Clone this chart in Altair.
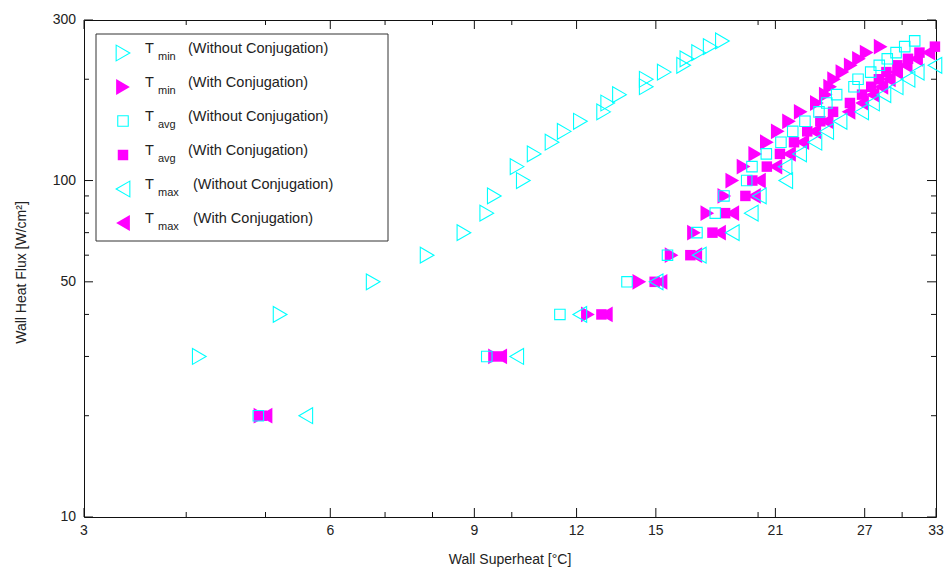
import altair as alt
import pandas as pd

# ---------------- data ----------------
levels = [20, 30, 40, 50, 60, 70, 80, 90, 100, 110, 120, 130, 140, 150, 160,
          170, 180, 190, 200, 210, 220, 230, 240, 250, 260]

tmin_wo = [None, 4.15, 5.21, 6.77, 7.88, 8.74, 9.32, 9.52, 10.33, 10.15, 10.65, 11.2, 11.59, 12.13,
           12.95, 13.1, 13.54, 14.6, 14.6, 15.36, 16.22, 16.37, 16.92, 17.48, 18.09]
tmin_w = [4.93, 9.54, 12.39, 14.32, 15.68, 16.7, 17.34, 18.19, 18.6, 19.2, 19.84, 20.5, 21.14, 21.82,
          22.55, 23.6, 24.2, 24.5, 24.77, 25.36, 25.96, 26.57, 27.15, 28.24, None]
tavg_wo = [4.9, 9.32, 11.45, 13.83, 15.5, 16.84, 17.73, 18.17, 19.37, 19.66, 20.47, 21.33, 22.05, 22.82,
           23.74, 24.27, 24.95, 26.2, 26.5, 27.46, 28.13, 28.77, 29.49, 30.22, 31.08]
tavg_w = [4.95, 9.6, 12.87, 14.95, 16.53, 17.59, 18.23, 19.3, 19.68, 20.5, 21.27, 22.13, 22.97, 23.83,
          24.7, 25.9, 26.8, 27.5, 28.1, 28.7, 29.6, 30.5, 31.5, 32.9, None]
tmax_wo = [5.6, 10.14, 12.11, 15.01, 16.95, 18.6, 19.62, 20.07, 21.62, 21.58, 22.48, 23.47, 24.26, 25.19,
           26.77, 27.6, 28.5, 29.5, 30.5, 31.3, 32.9, None, None, None, None]
tmax_w = [5.0, 9.68, 13.03, 15.2, 16.76, 17.92, 18.6, 19.77, 20.05, 21.0, 21.82, 22.65, 23.43, 24.26,
          25.8, 26.8, 27.6, 28.3, 28.9, 29.5, 30.3, 31.2, 32.3, None, None]

series_names = ["Tmin_wo", "Tmin_w", "Tavg_wo", "Tavg_w", "Tmax_wo", "Tmax_w"]
series_values = [tmin_wo, tmin_w, tavg_wo, tavg_w, tmax_wo, tmax_w]
legend_sub = ["min", "min", "avg", "avg", "max", "max"]
legend_desc = ["(Without Conjugation)", "(With Conjugation)", "(Without Conjugation)",
               "(With Conjugation)", "(Without Conjugation)", "(With Conjugation)"]

x_major = [3, 6, 9, 12, 15, 21, 27, 33]
x_minor = [4, 5, 7, 8, 10, 20, 30]
y_major = [10, 50, 100, 300]
y_minor = [20, 30, 40, 60, 70, 80, 90, 200]
x_title = "Wall Superheat [°C]"
y_title = "Wall Heat Flux [W/cm²]"

rows = []
for name, vals in zip(series_names, series_values):
    for q, t in zip(levels, vals):
        if t is not None:
            rows.append({"series": name, "q": q, "T": t})
df = pd.DataFrame(rows)

legend_df = pd.DataFrame({"series": series_names, "sub": legend_sub,
                          "desc": legend_desc, "row": list(range(6))})

# ---------------- styling ----------------
W, H = 852, 497
FONT = "Liberation Sans"
TXT = "#222222"
TICK = "#111111"
CYAN = "#00FFFF"
MAG = "#FF00FF"
MAJ_SIZE, MIN_SIZE = 324, 100   # tick symbol sizes -> 9 px and 5 px long

styles = {
    "Tmin_wo": dict(shape="triangle-right", size=250, filled=False, color=CYAN),
    "Tmin_w": dict(shape="triangle-right", size=250, filled=True, color=MAG),
    "Tavg_wo": dict(shape="square", size=110, filled=False, color=CYAN),
    "Tavg_w": dict(shape="square", size=110, filled=True, color=MAG),
    "Tmax_wo": dict(shape="triangle-left", size=250, filled=False, color=CYAN),
    "Tmax_w": dict(shape="triangle-left", size=250, filled=True, color=MAG),
}

xscale = alt.Scale(type="log", domain=[3, 33], nice=False)
yscale = alt.Scale(type="log", domain=[10, 300], nice=False)

# ---------------- inward ticks (symbols placed through the scales) ----------------
tick_layers = []
for vals, sz in ((x_major, MAJ_SIZE), (x_minor, MIN_SIZE)):
    xdf = pd.DataFrame({"T": vals})
    for ypix, path in ((H, "M0,0L0,-1"), (0, "M0,0L0,1")):
        tick_layers.append(
            alt.Chart(xdf).mark_point(shape=path, size=sz, filled=False, color=TICK,
                                      opacity=1, strokeWidth=1).encode(
                x=alt.X("T:Q", scale=xscale, axis=None), y=alt.value(ypix)))
for vals, sz in ((y_major, MAJ_SIZE), (y_minor, MIN_SIZE)):
    ydf = pd.DataFrame({"q": vals})
    for xpix, path in ((0, "M0,0L1,0"), (W, "M0,0L-1,0")):
        tick_layers.append(
            alt.Chart(ydf).mark_point(shape=path, size=sz, filled=False, color=TICK,
                                      opacity=1, strokeWidth=1).encode(
                y=alt.Y("q:Q", scale=yscale, axis=None), x=alt.value(xpix)))

# ---------------- tick labels and titles ----------------
label_layers = [
    alt.Chart(pd.DataFrame({"T": x_major})).mark_text(
        align="center", baseline="top", font=FONT, fontSize=14, color=TXT).encode(
        x=alt.X("T:Q", scale=xscale, axis=None), y=alt.value(H + 7),
        text=alt.Text("T:Q", format="d")),
    alt.Chart(pd.DataFrame({"q": y_major})).mark_text(
        align="right", baseline="middle", font=FONT, fontSize=14, color=TXT).encode(
        y=alt.Y("q:Q", scale=yscale, axis=None), x=alt.value(-8),
        text=alt.Text("q:Q", format="d")),
    alt.Chart(pd.DataFrame({"t": [x_title]})).mark_text(
        align="center", baseline="middle", font=FONT, fontSize=14, color=TXT).encode(
        x=alt.value(W / 2), y=alt.value(H + 43), text="t:N"),
    alt.Chart(pd.DataFrame({"t": [y_title]})).mark_text(
        align="center", baseline="middle", font=FONT, fontSize=14, color=TXT,
        angle=270).encode(
        x=alt.value(-62), y=alt.value(H / 2 + 4), text="t:N"),
]

base = alt.Chart(df)
draw_order = ["Tmin_w", "Tavg_w", "Tmax_w", "Tmin_wo", "Tavg_wo", "Tmax_wo"]
data_layers = []
for name in draw_order:
    s = styles[name]
    data_layers.append(
        base.transform_filter(alt.datum.series == name).mark_point(
            shape=s["shape"], size=s["size"], filled=s["filled"], color=s["color"],
            opacity=1, strokeWidth=1.1).encode(
            x=alt.X("T:Q", scale=xscale, axis=None),
            y=alt.Y("q:Q", scale=yscale, axis=None)))

# ---------------- legend ----------------
lbase = alt.Chart(legend_df).transform_calculate(
    py="33 + 34 * datum.row",
    dx="datum.sub == 'max' ? 109 : 104")

legend_box = alt.Chart(pd.DataFrame({"k": [0]})).mark_rect(
    fill="white", stroke="#333333", strokeWidth=1).encode(
    x=alt.value(12), x2=alt.value(304), y=alt.value(14), y2=alt.value(221))

legend_layers = [legend_box]
for name in series_names:
    s = styles[name]
    legend_layers.append(
        lbase.transform_filter(alt.datum.series == name).mark_point(
            shape=s["shape"], size=s["size"], filled=s["filled"], color=s["color"],
            opacity=1, strokeWidth=1.1).encode(
            x=alt.value(39), y=alt.Y("py:Q", scale=None)))

legend_layers.append(
    lbase.mark_text(text="T", align="left", baseline="alphabetic", font=FONT,
                    fontSize=14.5, color=TXT).encode(
        x=alt.value(61), y=alt.Y("py:Q", scale=None)))
legend_layers.append(
    lbase.mark_text(align="left", baseline="alphabetic", font=FONT, fontSize=11,
                    color=TXT, dy=7).encode(
        x=alt.value(74), y=alt.Y("py:Q", scale=None), text="sub:N"))
legend_layers.append(
    lbase.mark_text(align="left", baseline="alphabetic", font=FONT, fontSize=14.5,
                    color=TXT).encode(
        x=alt.X("dx:Q", scale=None), y=alt.Y("py:Q", scale=None), text="desc:N"))

chart = alt.layer(*tick_layers, *label_layers, *data_layers, *legend_layers).properties(
    width=W, height=H,
    autosize=alt.AutoSizeParams(type="none"),
    padding={"left": 84, "top": 20, "right": 10, "bottom": 53},
    background="white",
).configure_view(stroke="#111111", strokeWidth=1)

chart.save("out.html", embed_options={"renderer": "svg", "actions": False})
